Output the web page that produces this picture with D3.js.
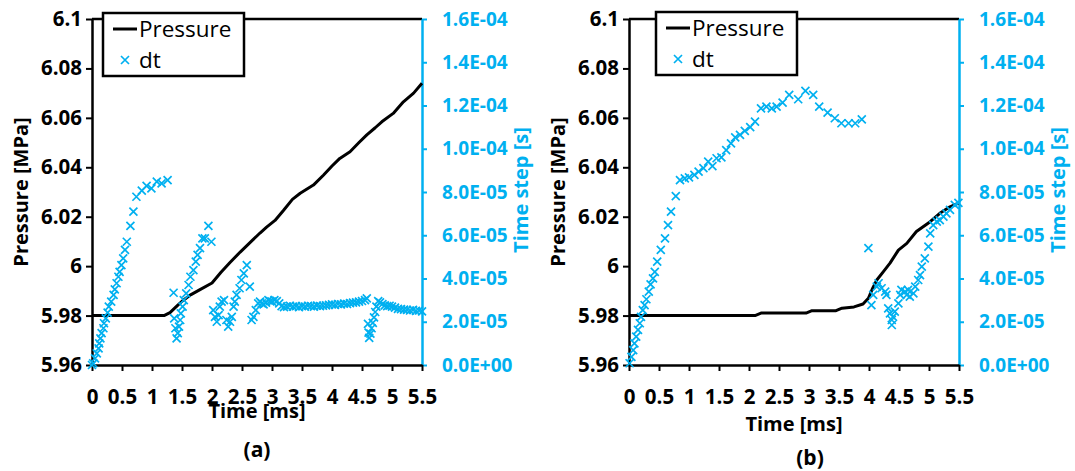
<!DOCTYPE html>
<html>
<head>
<meta charset="utf-8">
<script src="https://cdn.jsdelivr.net/npm/d3@7"></script>
<style>
  body { margin: 0; background: #fff; }
  text { font-family: "Open Sans", sans-serif; }
</style>
</head>
<body>
<div class="chart-container"></div>
<script>
var width = 1075;
var height = 471;
var cyan = "#00b0f0";

// axis ticks
var xTicks = [0, 0.5, 1, 1.5, 2, 2.5, 3, 3.5, 4, 4.5, 5, 5.5];
var pressureTicks = [5.96, 5.98, 6, 6.02, 6.04, 6.06, 6.08, 6.1];
var pressureTickLabels = ["5.96", "5.98", "6", "6.02", "6.04", "6.06", "6.08", "6.1"];
var dtTicks = [0, 2, 4, 6, 8, 10, 12, 14, 16]; // units of 1e-5 s
var dtTickLabels = ["0.0E+00", "2.0E-05", "4.0E-05", "6.0E-05", "8.0E-05",
  "1.0E-04", "1.2E-04", "1.4E-04", "1.6E-04"];

// panel (a): pressure [MPa] vs time [ms]
var pressureTimeA = [0, 1.2, 1.3, 1.4, 1.5, 1.65, 1.8, 2.0, 2.15, 2.3, 2.47, 2.68, 2.8, 2.91,
  3.05, 3.19, 3.34, 3.47, 3.69, 3.86, 4.0, 4.13, 4.3, 4.45, 4.58, 4.72, 4.83, 5.02, 5.19, 5.36, 5.5];
var pressureA = [5.98, 5.98, 5.9812, 5.9835, 5.9858, 5.9885, 5.9905, 5.9932, 5.9975, 6.0015,
  6.0057, 6.0106, 6.0134, 6.0158, 6.0185, 6.0225, 6.027, 6.0295, 6.0328, 6.0369, 6.0405,
  6.0436, 6.0463, 6.05, 6.0531, 6.056, 6.0584, 6.0618, 6.0665, 6.07, 6.074];

// panel (a): time step, units of 1e-5 s
var dtTimeA = [0.0, 0.02, 0.05, 0.08, 0.11, 0.12, 0.14, 0.16, 0.19, 0.2, 0.23, 0.26, 0.28, 0.32,
  0.36, 0.38, 0.41, 0.44, 0.46, 0.49, 0.52, 0.55, 0.58, 0.64, 0.69, 0.74, 0.83, 0.91, 0.99, 1.08,
  1.16, 1.26,
  1.36, 1.37, 1.39, 1.41, 1.43, 1.45, 1.47, 1.48, 1.51, 1.53, 1.57, 1.61, 1.64, 1.69, 1.73, 1.76,
  1.8, 1.84, 1.88, 1.94, 1.99,
  2.02, 2.05, 2.08, 2.11, 2.13, 2.16, 2.2, 2.24, 2.27, 2.3, 2.33, 2.36, 2.38, 2.41, 2.46, 2.49,
  2.53, 2.58, 2.63, 2.66, 2.69, 2.73, 2.77,
  2.8, 2.83, 2.86, 2.9, 2.94, 2.97, 3.0, 3.04, 3.08, 3.12, 3.16, 3.2, 3.25, 3.3, 3.35, 3.4, 3.45,
  3.5, 3.55, 3.6, 3.65, 3.7, 3.75, 3.8, 3.85, 3.9, 3.95, 4.0, 4.05, 4.1, 4.15, 4.2, 4.25, 4.3,
  4.35, 4.4, 4.45, 4.5, 4.55, 4.58,
  4.6, 4.61, 4.62, 4.64, 4.66, 4.68, 4.7, 4.72, 4.74, 4.77, 4.8, 4.84, 4.88, 4.92, 4.96, 5.0,
  5.05, 5.1, 5.15, 5.2, 5.25, 5.3, 5.35, 5.4, 5.45, 5.5];
var dtA = [0, 0.08, 0.31, 0.54, 0.77, 1.0, 1.23, 1.47, 1.7, 1.93, 2.16, 2.42, 2.7, 2.93,
  3.24, 3.5, 3.78, 4.08, 4.31, 4.62, 4.93, 5.32, 5.7, 6.43, 7.09, 7.78, 8.06, 8.28, 8.17, 8.48,
  8.4, 8.55,
  3.34, 2.16, 1.7, 1.23, 1.47, 1.77, 2.08, 2.39, 2.7, 3.0, 3.31, 3.7, 4.08, 4.39, 4.78, 5.09,
  5.4, 5.86, 5.86, 6.43, 5.7,
  2.54, 2.23, 2.0, 2.31, 2.7, 2.93, 3.0, 2.08, 1.77, 2.0, 2.23, 2.7, 2.93, 3.24, 3.55, 3.93,
  4.24, 4.62, 3.62, 2.08, 2.23, 2.54, 2.85,
  2.93, 2.85, 2.8, 2.88, 3.0, 2.95, 2.93, 3.0, 2.95, 2.85, 2.72, 2.68, 2.7, 2.74, 2.7, 2.72, 2.68,
  2.72, 2.7, 2.74, 2.72, 2.7, 2.75, 2.72, 2.74, 2.76, 2.78, 2.8, 2.78, 2.82, 2.8, 2.84, 2.82, 2.86,
  2.88, 2.9, 2.93, 2.96, 3.0, 3.08,
  1.9, 1.5, 1.25, 1.45, 1.7, 1.95, 2.2, 2.45, 2.7, 2.95, 2.9, 2.82, 2.76, 2.72, 2.74, 2.7,
  2.65, 2.6, 2.58, 2.56, 2.55, 2.52, 2.55, 2.5, 2.52, 2.48];

// panel (b): pressure [MPa] vs time [ms]
var pressureTimeB = [0, 2.1, 2.2, 2.95, 3.05, 3.45, 3.55, 3.75, 3.9, 3.99, 4.06, 4.13, 4.24,
  4.35, 4.49, 4.63, 4.79, 5.02, 5.18, 5.35, 5.5];
var pressureB = [5.98, 5.98, 5.981, 5.981, 5.982, 5.982, 5.983, 5.9835, 5.9847, 5.987, 5.991,
  5.9944, 5.9978, 6.0012, 6.0065, 6.0092, 6.014, 6.018, 6.0214, 6.024, 6.0256];

// panel (b): time step, units of 1e-5 s
var dtTimeB = [0.01, 0.04, 0.07, 0.09, 0.12, 0.15, 0.18, 0.2, 0.23, 0.26, 0.29, 0.33, 0.36, 0.4,
  0.43, 0.47, 0.53, 0.6, 0.65, 0.7, 0.78, 0.85, 0.93, 1.0, 1.09, 1.16, 1.24, 1.32, 1.39, 1.46,
  1.54, 1.62, 1.7, 1.77, 1.85, 1.93, 2.02, 2.1, 2.2, 2.29, 2.38, 2.46, 2.56, 2.67, 2.82, 2.94,
  3.07, 3.17, 3.31, 3.43, 3.54, 3.66, 3.77, 3.88, 3.99,
  4.04, 4.07, 4.13, 4.16, 4.21, 4.27, 4.29, 4.32, 4.35, 4.38, 4.38, 4.4, 4.43, 4.49, 4.52, 4.54,
  4.6, 4.63, 4.65, 4.68, 4.74, 4.77, 4.82, 4.85, 4.88, 4.93, 4.99, 5.02, 5.07, 5.13, 5.18, 5.24,
  5.29, 5.35, 5.43, 5.49];
var dtB = [0.08, 0.38, 0.69, 1.0, 1.31, 1.62, 1.93, 2.23, 2.54, 2.77, 3.04, 3.39, 3.73, 4.01,
  4.31, 4.78, 5.32, 5.86, 6.47, 7.09, 7.81, 8.55, 8.63, 8.68, 8.79, 8.94, 9.1, 9.4, 9.2, 9.56,
  9.6, 9.94, 10.25, 10.53, 10.64, 10.83, 11.0, 11.25, 11.87, 11.95, 11.87, 11.95, 12.13, 12.49,
  12.29, 12.68, 12.49, 11.95, 11.67, 11.41, 11.18, 11.18, 11.18, 11.36, 5.4,
  2.77, 3.24, 3.62, 3.78, 3.55, 3.39, 3.24, 2.62, 2.39, 2.08, 1.85, 2.23, 2.47, 2.85, 3.24, 3.47,
  3.39, 3.24, 3.47, 3.16, 3.31, 3.62, 3.93, 4.16, 4.55, 4.93, 5.47, 6.09, 6.47, 6.63, 6.7, 6.86,
  7.01, 7.17, 7.4, 7.5];

var svg = d3
  .select(".chart-container")
  .append("svg")
  .attr("width", width)
  .attr("height", height);

var panels = [
  { left: 92, right: 422, tag: "(a)", tagX: 257, tagY: 457, titleY: 418, legendX: 103, legendY: 13,
    pTime: pressureTimeA, p: pressureA, dTime: dtTimeA, d: dtA },
  { left: 629, right: 959, tag: "(b)", tagX: 810, tagY: 465, titleY: 431, legendX: 656, legendY: 12,
    pTime: pressureTimeB, p: pressureB, dTime: dtTimeB, d: dtB }
];

panels.forEach(drawPanel);

function crossPath(s) {
  return "M" + -s + "," + -s + "L" + s + "," + s + "M" + -s + "," + s + "L" + s + "," + -s;
}

function styleTicks(axisG, color, size) {
  axisG.select(".domain").attr("stroke", color).attr("stroke-width", 2.5);
  axisG.selectAll(".tick line").attr("stroke", color).attr("stroke-width", 2);
  axisG.selectAll("text")
    .attr("fill", color).style("font-size", size).style("font-weight", "bold");
}

function drawPanel(cfg) {
  var top = 19;
  var bottom = 365;
  var g = svg.append("g");

  var x = d3.scaleLinear().domain([0, 5.5]).range([cfg.left, cfg.right]);
  var yP = d3.scaleLinear().domain([5.96, 6.1]).range([bottom, top]);
  var yD = d3.scaleLinear().domain([0, 16]).range([bottom, top]);

  // top frame line
  g.append("line")
    .attr("x1", cfg.left).attr("x2", cfg.right)
    .attr("y1", top).attr("y2", top)
    .attr("stroke", "black").attr("stroke-width", 2.5);

  // right axis (time step)
  var rightAxis = g.append("g")
    .attr("transform", `translate(${cfg.right},0)`)
    .call(d3.axisRight(yD).tickValues(dtTicks)
      .tickFormat((d, i) => dtTickLabels[i])
      .tickSizeInner(5).tickSizeOuter(0).tickPadding(15));
  styleTicks(rightAxis, cyan, "19px");

  // left axis (pressure)
  var leftAxis = g.append("g")
    .attr("transform", `translate(${cfg.left},0)`)
    .call(d3.axisLeft(yP).tickValues(pressureTicks)
      .tickFormat((d, i) => pressureTickLabels[i])
      .tickSizeInner(6).tickSizeOuter(0).tickPadding(4));
  styleTicks(leftAxis, "black", "20.5px");

  // bottom axis (time)
  var bottomAxis = g.append("g")
    .attr("transform", `translate(0,${bottom})`)
    .call(d3.axisBottom(x).tickValues(xTicks)
      .tickFormat(d3.format("~g"))
      .tickSizeInner(6).tickSizeOuter(0).tickPadding(18));
  styleTicks(bottomAxis, "black", "20.5px");

  // axis titles
  g.append("text")
    .attr("transform", `translate(${cfg.left - 64},${(top + bottom) / 2}) rotate(-90)`)
    .attr("text-anchor", "middle")
    .style("font-size", "20px").style("font-weight", "bold")
    .text("Pressure [MPa]");

  g.append("text")
    .attr("transform", `translate(${cfg.right + 106},${(top + bottom) / 2 - 2}) rotate(-90)`)
    .attr("text-anchor", "middle")
    .attr("fill", cyan)
    .style("font-size", "20px").style("font-weight", "bold")
    .text("Time step [s]");

  g.append("text")
    .attr("x", (cfg.left + cfg.right) / 2)
    .attr("y", cfg.titleY)
    .attr("text-anchor", "middle")
    .style("font-size", "20px").style("font-weight", "bold")
    .text("Time [ms]");

  g.append("text")
    .attr("x", cfg.tagX)
    .attr("y", cfg.tagY)
    .attr("text-anchor", "middle")
    .style("font-size", "21px").style("font-weight", "bold")
    .text(cfg.tag);

  // pressure line
  var line = d3.line()
    .x((d, i) => x(cfg.pTime[i]))
    .y((d) => yP(d));

  g.append("path")
    .datum(cfg.p)
    .attr("d", line)
    .attr("fill", "none")
    .attr("stroke", "black")
    .attr("stroke-width", 3)
    .attr("stroke-linejoin", "round");

  // time step markers
  g.append("g")
    .selectAll("path")
    .data(cfg.d)
    .enter()
    .append("path")
    .attr("transform", (d, i) => `translate(${x(cfg.dTime[i])},${yD(d)})`)
    .attr("d", crossPath(4))
    .attr("fill", "none")
    .attr("stroke", cyan)
    .attr("stroke-width", 1.7);

  // legend
  var lg = g.append("g").attr("transform", `translate(${cfg.legendX},${cfg.legendY})`);
  lg.append("rect")
    .attr("width", 141).attr("height", 63)
    .attr("fill", "white")
    .attr("stroke", "black").attr("stroke-width", 2.5);
  lg.append("line")
    .attr("x1", 10).attr("x2", 34).attr("y1", 16).attr("y2", 16)
    .attr("stroke", "black").attr("stroke-width", 3);
  lg.append("text")
    .attr("x", 36).attr("y", 24)
    .style("font-size", "22.5px")
    .text("Pressure");
  lg.append("path")
    .attr("transform", "translate(22,47)")
    .attr("d", crossPath(4))
    .attr("fill", "none")
    .attr("stroke", cyan)
    .attr("stroke-width", 1.7);
  lg.append("text")
    .attr("x", 36).attr("y", 55)
    .style("font-size", "22.5px")
    .text("dt");
}
</script>
</body>
</html>
